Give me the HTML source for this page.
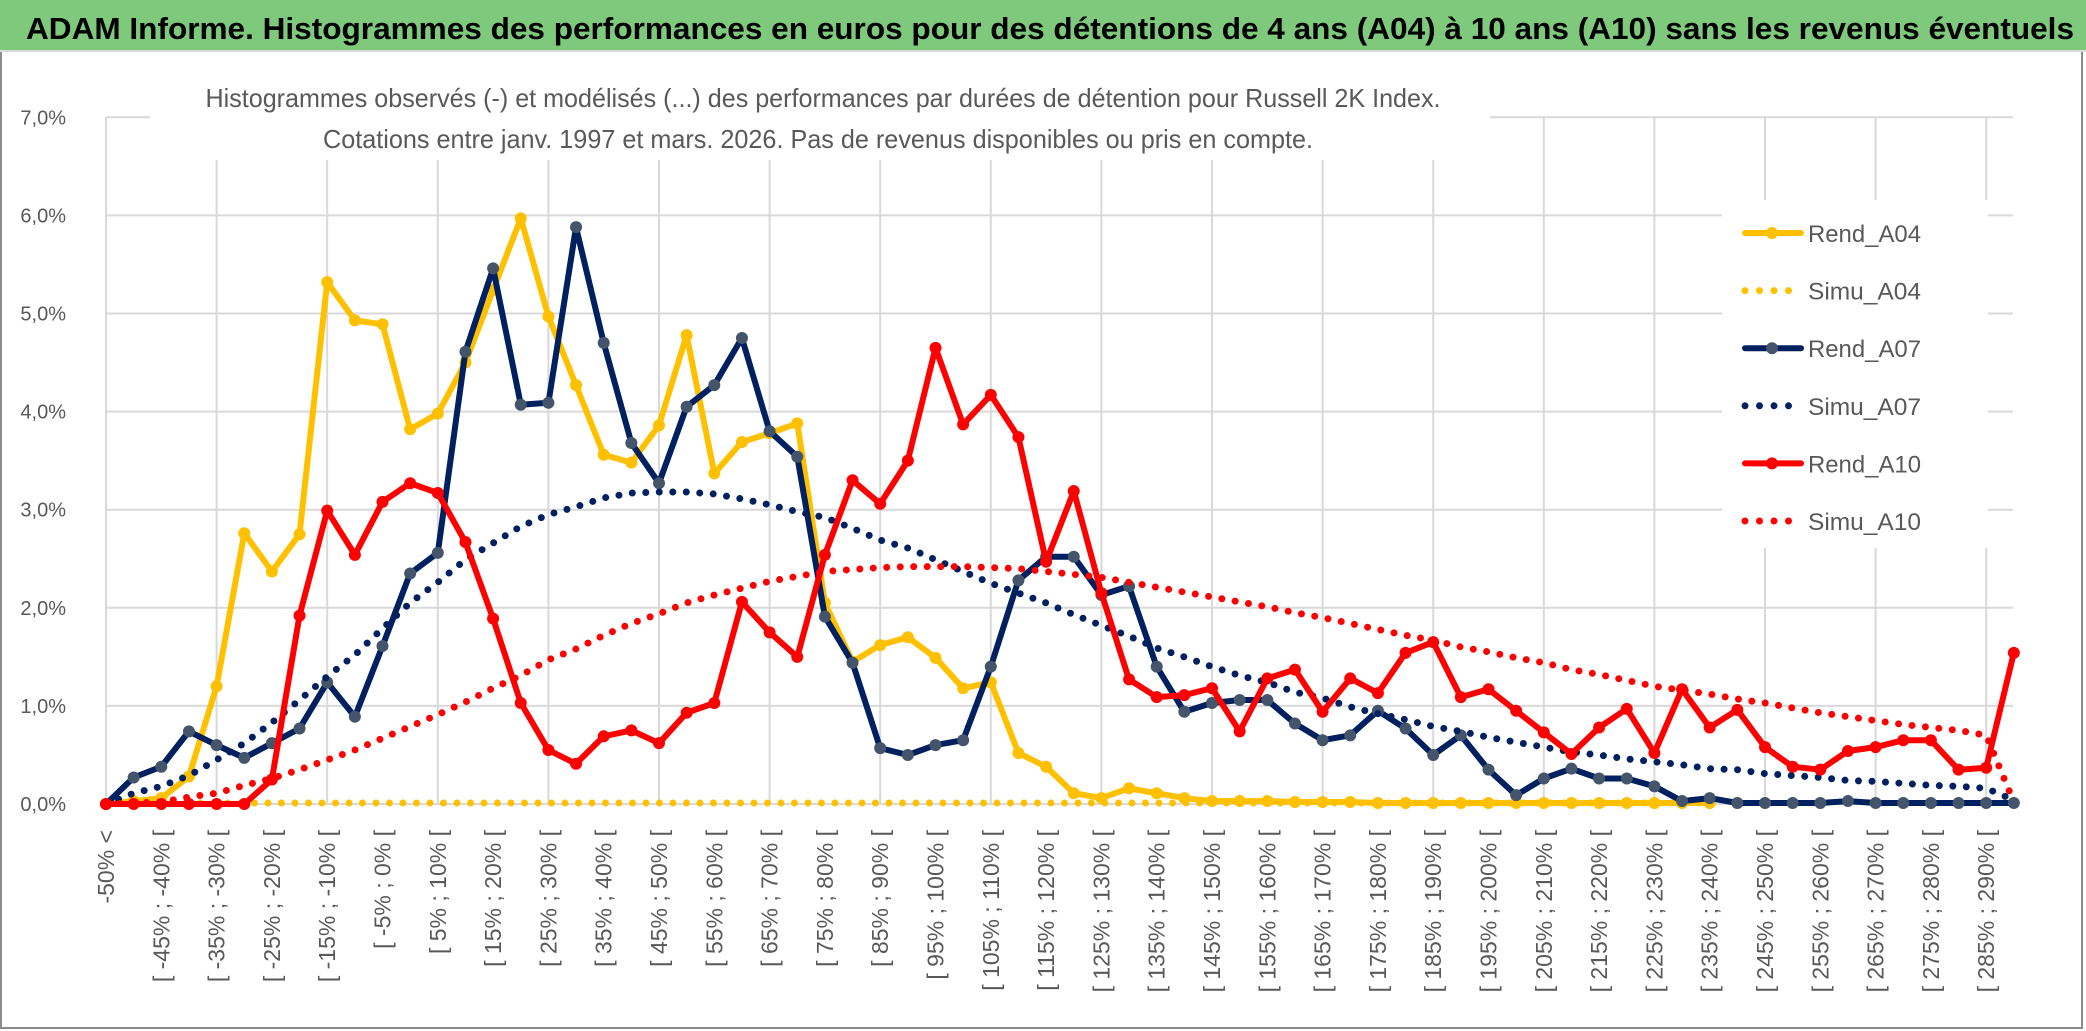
<!DOCTYPE html>
<html><head><meta charset="utf-8"><style>
html,body{margin:0;padding:0;background:#fff;}
svg{display:block;}
</style></head><body>
<svg id="chart" width="2086" height="1031" viewBox="0 0 2086 1031" xmlns="http://www.w3.org/2000/svg" font-family="'Liberation Sans', sans-serif">
  <rect x="0" y="0" width="2086" height="1031" fill="#fff"/>
  <rect x="1" y="1" width="2081" height="1027" fill="none" stroke="#8c8c8c" stroke-width="2"/>
  <rect x="0" y="0" width="2086" height="50" fill="#7ec97c"/>
  <line x1="0" y1="51" x2="2086" y2="51" stroke="#d9d9d9" stroke-width="2"/>
  <text x="26" y="39" font-size="31" font-weight="bold" fill="#000" textLength="2048" lengthAdjust="spacingAndGlyphs">ADAM Informe. Histogrammes des performances en euros pour des détentions de 4 ans (A04) à 10 ans (A10) sans les revenus éventuels</text>
  <g id="grid"></g>
  <g id="yticks"></g>
  <g id="xticks"></g>
  <rect x="150" y="80" width="1340" height="80" fill="#fff"/>
  <text x="823" y="107" font-size="26" fill="#595959" text-anchor="middle" textLength="1235" lengthAdjust="spacingAndGlyphs">Histogrammes observés (-) et modélisés (...) des performances par durées de détention pour Russell 2K Index.</text>
  <text x="818" y="148" font-size="26" fill="#595959" text-anchor="middle" textLength="990" lengthAdjust="spacingAndGlyphs">Cotations entre janv. 1997 et mars. 2026. Pas de revenus disponibles ou pris en compte.</text>
  <g id="series"></g>
  <rect x="1722" y="200" width="266" height="348" fill="#fff"/>
  <g id="legend"></g>
</svg>
<script>
const categories = ["-50% <","[ -50% ; -45% [","[ -45% ; -40% [","[ -40% ; -35% [","[ -35% ; -30% [","[ -30% ; -25% [","[ -25% ; -20% [","[ -20% ; -15% [","[ -15% ; -10% [","[ -10% ; -5% [","[ -5% ; 0% [","[ 0% ; 5% [","[ 5% ; 10% [","[ 10% ; 15% [","[ 15% ; 20% [","[ 20% ; 25% [","[ 25% ; 30% [","[ 30% ; 35% [","[ 35% ; 40% [","[ 40% ; 45% [","[ 45% ; 50% [","[ 50% ; 55% [","[ 55% ; 60% [","[ 60% ; 65% [","[ 65% ; 70% [","[ 70% ; 75% [","[ 75% ; 80% [","[ 80% ; 85% [","[ 85% ; 90% [","[ 90% ; 95% [","[ 95% ; 100% [","[ 100% ; 105% [","[ 105% ; 110% [","[ 110% ; 115% [","[ 115% ; 120% [","[ 120% ; 125% [","[ 125% ; 130% [","[ 130% ; 135% [","[ 135% ; 140% [","[ 140% ; 145% [","[ 145% ; 150% [","[ 150% ; 155% [","[ 155% ; 160% [","[ 160% ; 165% [","[ 165% ; 170% [","[ 170% ; 175% [","[ 175% ; 180% [","[ 180% ; 185% [","[ 185% ; 190% [","[ 190% ; 195% [","[ 195% ; 200% [","[ 200% ; 205% [","[ 205% ; 210% [","[ 210% ; 215% [","[ 215% ; 220% [","[ 220% ; 225% [","[ 225% ; 230% [","[ 230% ; 235% [","[ 235% ; 240% [","[ 240% ; 245% [","[ 245% ; 250% [","[ 250% ; 255% [","[ 255% ; 260% [","[ 260% ; 265% [","[ 265% ; 270% [","[ 270% ; 275% [","[ 275% ; 280% [","[ 280% ; 285% [","[ 285% ; 290% [","[ 290% ; 295% ["];
const yTickValues = [0,1,2,3,4,5,6,7];
const yTickLabels = ["0,0%","1,0%","2,0%","3,0%","4,0%","5,0%","6,0%","7,0%"];
const rendA04 = [0,0.03,0.06,0.28,1.2,2.76,2.37,2.75,5.32,4.93,4.89,3.82,3.98,4.5,5.24,5.97,4.97,4.27,3.56,3.48,3.86,4.78,3.37,3.69,3.78,3.88,2.05,1.45,1.62,1.7,1.49,1.18,1.24,0.52,0.38,0.11,0.06,0.16,0.11,0.06,0.03,0.03,0.03,0.02,0.02,0.02,0.01,0.01,0.01,0.01,0.01,0.01,0.01,0.01,0.01,0.01,0.01,0.01,0.01,null,null,null,null,null,null,null,null,null,null,null];
const simuA04 = [0,0.01,0.01,0.01,0.01,0.01,0.01,0.01,0.01,0.01,0.01,0.01,0.01,0.01,0.01,0.01,0.01,0.01,0.01,0.01,0.01,0.01,0.01,0.01,0.01,0.01,0.01,0.01,0.01,0.01,0.01,0.01,0.01,0.01,0.01,0.01,0.01,0.01,0.01,0.01,0.01,0.01,0.01,0.01,0.01,0.01,0.01,0.01,0.01,0.01,0.01,0.01,0.01,0.01,0.01,0.01,0.01,0.01,0.01,null,null,null,null,null,null,null,null,null,null,null];
const rendA07 = [0,0.27,0.38,0.74,0.6,0.47,0.62,0.77,1.24,0.89,1.61,2.35,2.56,4.61,5.46,4.07,4.09,5.88,4.7,3.68,3.27,4.05,4.27,4.75,3.8,3.54,1.91,1.44,0.57,0.5,0.6,0.65,1.4,2.28,2.52,2.52,2.13,2.22,1.4,0.94,1.03,1.06,1.06,0.82,0.65,0.7,0.95,0.77,0.5,0.7,0.35,0.09,0.26,0.36,0.26,0.26,0.18,0.03,0.06,0.01,0.01,0.01,0.01,0.03,0.01,0.01,0.01,0.01,0.01,0.01];
const simuA07 = [0,0.11,0.18,0.29,0.45,0.62,0.83,1.06,1.3,1.52,1.79,2.05,2.26,2.49,2.66,2.83,2.95,3.03,3.12,3.17,3.18,3.18,3.16,3.11,3.05,2.98,2.92,2.81,2.69,2.61,2.49,2.37,2.25,2.15,2.05,1.93,1.82,1.71,1.59,1.5,1.4,1.31,1.24,1.14,1.08,0.99,0.92,0.86,0.79,0.74,0.68,0.63,0.58,0.53,0.5,0.46,0.43,0.4,0.36,0.35,0.31,0.29,0.27,0.24,0.23,0.21,0.19,0.18,0.16,0.04];
const rendA10 = [0,0,0,0,0,0,0.25,1.92,2.99,2.54,3.08,3.27,3.17,2.67,1.89,1.03,0.55,0.41,0.69,0.75,0.62,0.93,1.03,2.06,1.75,1.5,2.54,3.3,3.06,3.5,4.65,3.87,4.17,3.74,2.47,3.19,2.15,1.27,1.09,1.11,1.18,0.74,1.28,1.37,0.94,1.28,1.13,1.54,1.65,1.09,1.17,0.95,0.73,0.51,0.78,0.97,0.52,1.17,0.78,0.96,0.58,0.38,0.35,0.54,0.58,0.65,0.65,0.35,0.37,1.54];
const simuA10 = [0,0.01,0.02,0.07,0.11,0.19,0.26,0.35,0.45,0.55,0.67,0.79,0.91,1.04,1.18,1.31,1.47,1.58,1.72,1.84,1.94,2.05,2.13,2.2,2.27,2.32,2.37,2.39,2.41,2.42,2.42,2.42,2.41,2.4,2.37,2.34,2.31,2.26,2.21,2.16,2.11,2.06,2.01,1.95,1.9,1.84,1.78,1.72,1.67,1.6,1.55,1.49,1.44,1.37,1.32,1.26,1.2,1.16,1.12,1.07,1.03,0.98,0.93,0.89,0.85,0.81,0.78,0.75,0.7,0.02];
const seriesNames = ["Simu_A04","Rend_A04","Simu_A07","Rend_A07","Simu_A10","Rend_A10"];

const NS = "http://www.w3.org/2000/svg";
const X0 = 106, STEP = 27.65, Y0 = 804, PER = 98.1, XEND = 2013;
function xPos(i){ return X0 + i*STEP; }
function yPos(v){ return Y0 - v*PER; }
function mk(tag, attrs, parent){ const e=document.createElementNS(NS,tag); for(const k in attrs) e.setAttribute(k,attrs[k]); parent.appendChild(e); return e; }

const grid = document.getElementById('grid');
for (let k=0; k<yTickValues.length; k++){
  const y = yPos(yTickValues[k]);
  const gl = mk('line',{x1:X0,y1:y,x2:XEND,y2:y,stroke:'#d9d9d9','stroke-width':2},grid);
  
  
}
for (let i=0; i<categories.length; i+=4){
  const x = xPos(i);
  const vl = mk('line',{x1:x,y1:yPos(7),x2:x,y2:Y0,stroke:'#d9d9d9','stroke-width':2},grid);
  
  
}
const yt = document.getElementById('yticks');
for (let k=0; k<yTickLabels.length; k++){
  const t = mk('text',{x:66,y:yPos(yTickValues[k])+7,'font-size':20,fill:'#595959','text-anchor':'end'},yt);
  t.textContent = yTickLabels[k];
  
  
}
const xt = document.getElementById('xticks');
for (let i=0; i<categories.length; i+=2){
  const x = xPos(i);
  const t = mk('text',{x:x,y:830,'font-size':23,fill:'#595959','text-anchor':'end','dominant-baseline':'central',transform:'rotate(-90 '+x+' 830)'},xt);
  t.textContent = categories[i];
  
  
}

const seriesData = [simuA04, rendA04, simuA07, rendA07, simuA10, rendA10];
const seriesColor = ['#ffc000','#ffc000','#002060','#002060','#ff0000','#ff0000'];
const markerColor = ['#ffc000','#ffc000','#44546a','#44546a','#ff0000','#ff0000'];
const isDotted = [true,false,true,false,true,false];
const order = [1,0,3,2,5,4];
const sg = document.getElementById('series');
for (const s of order){
  const vals = seriesData[s];
  const g = mk('g',{},sg);
  
  
  let d=''; let pen=false;
  for (let i=0;i<vals.length;i++){
    if (vals[i]===null){ pen=false; continue; }
    d += (pen?'L':'M') + xPos(i).toFixed(1) + ' ' + yPos(vals[i]).toFixed(1) + ' ';
    pen=true;
  }
  const p = mk('path',{d:d,fill:'none',stroke:seriesColor[s],'stroke-width':isDotted[s]?7:6,'stroke-linejoin':'round','stroke-linecap':'round'},g);
  if (isDotted[s]) p.setAttribute('stroke-dasharray','0 13.5');
  
  
  if (!isDotted[s]){
    for (let i=0;i<vals.length;i++){
      if (vals[i]===null) continue;
      const c = mk('circle',{cx:xPos(i),cy:yPos(vals[i]),r:6,fill:markerColor[s]},g);
      
      
    }
  }
}

const lg = document.getElementById('legend');
const legendOrder = [1,0,3,2,5,4];
for (let k=0;k<legendOrder.length;k++){
  const s = legendOrder[k];
  const cy = 233 + k*57.6;
  const item = mk('g',{},lg);
  
  
  const ln = mk('line',{x1:1745,y1:cy,x2:1801,y2:cy,stroke:seriesColor[s],'stroke-width':isDotted[s]?7:6,'stroke-linecap':'round'},item);
  if (isDotted[s]) ln.setAttribute('stroke-dasharray','0 14.5');
  
  
  if (!isDotted[s]){
    const c = mk('circle',{cx:1772,cy:cy,r:6,fill:markerColor[s]},item);
    
    
  }
  const t = mk('text',{x:1808,y:cy+9,'font-size':24,fill:'#595959',textLength:113,lengthAdjust:'spacingAndGlyphs'},item);
  t.textContent = seriesNames[s];
  
  
}
</script>
</body></html>
